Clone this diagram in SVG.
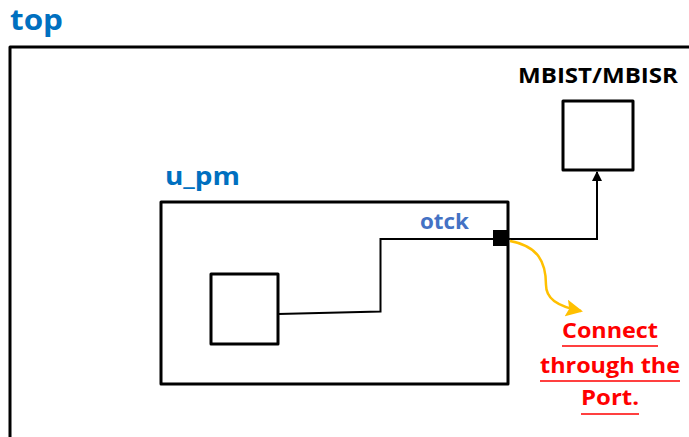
<svg xmlns="http://www.w3.org/2000/svg" width="689" height="437" viewBox="0 0 689 437">
<style>
.box{fill:none;stroke:#000;stroke-width:3;stroke-linejoin:round}
.wire{fill:none;stroke:#000;stroke-width:2}
.lbl{font-family:"Open Sans","Liberation Sans",sans-serif;font-weight:bold}
.blue{fill:#0070C0}
.red{fill:#FF0000;text-anchor:middle}
.ul{stroke:#FF0000;stroke-width:1.5}
</style>
<defs>
<marker id="ah" markerWidth="10" markerHeight="10" refX="9" refY="5" orient="auto" markerUnits="userSpaceOnUse" viewBox="0 0 10 10">
<path d="M0,0 L10,5 L0,10 z" fill="#000"/>
</marker>
<marker id="ahy" markerWidth="17" markerHeight="17" refX="15" refY="8.5" orient="auto" markerUnits="userSpaceOnUse" viewBox="0 0 17 17">
<path d="M0,0 L17,8.5 L0,17 L3,8.5 z" fill="#FFC000"/>
</marker>
</defs>
<rect width="689" height="437" fill="#fff"/>
<g id="top">
<rect x="10" y="47" width="700" height="420" class="box"/>
<text x="10" y="30" class="lbl blue" font-size="28" textLength="53" lengthAdjust="spacingAndGlyphs">top</text>
</g>
<g id="u_pm">
<rect x="161" y="202" width="347" height="182" class="box"/>
<text x="165" y="185" class="lbl blue" font-size="25" textLength="75" lengthAdjust="spacingAndGlyphs">u_pm</text>
</g>
<g id="inner">
<rect x="211" y="274" width="67" height="70" class="box"/>
</g>
<g id="mbist">
<rect x="563" y="101" width="70" height="69" class="box"/>
<text x="598" y="83" class="lbl" font-size="22" text-anchor="middle" textLength="160" lengthAdjust="spacingAndGlyphs" fill="#000">MBIST/MBISR</text>
</g>
<g id="port">
<rect x="493" y="230" width="16" height="16" fill="#000"/>
<text x="444.5" y="229" class="lbl" font-size="21" text-anchor="middle" textLength="49" lengthAdjust="spacingAndGlyphs" fill="#4472C4">otck</text>
</g>
<g id="connectors">
<polyline class="wire" points="278,314 380.5,311.5 380.5,239 493,239"/>
<polyline class="wire" points="509,239 597,239 597,172" marker-end="url(#ah)"/>
<path d="M510,241 C538,246 546,262 546,285 C546,298 556,306 581,311" fill="none" stroke="#FFC000" stroke-width="2.5" marker-end="url(#ahy)"/>
</g>
<g id="note">
<text x="610" y="338" class="lbl red" font-size="22" textLength="96" lengthAdjust="spacingAndGlyphs">Connect</text>
<line x1="562" y1="346" x2="658" y2="346" class="ul"/>
<text x="610" y="373" class="lbl red" font-size="22" textLength="140" lengthAdjust="spacingAndGlyphs">through the</text>
<line x1="540" y1="381" x2="680" y2="381" class="ul"/>
<text x="610" y="405" class="lbl red" font-size="22" textLength="58" lengthAdjust="spacingAndGlyphs">Port.</text>
<line x1="581" y1="414" x2="639" y2="414" class="ul"/>
</g>
</svg>
